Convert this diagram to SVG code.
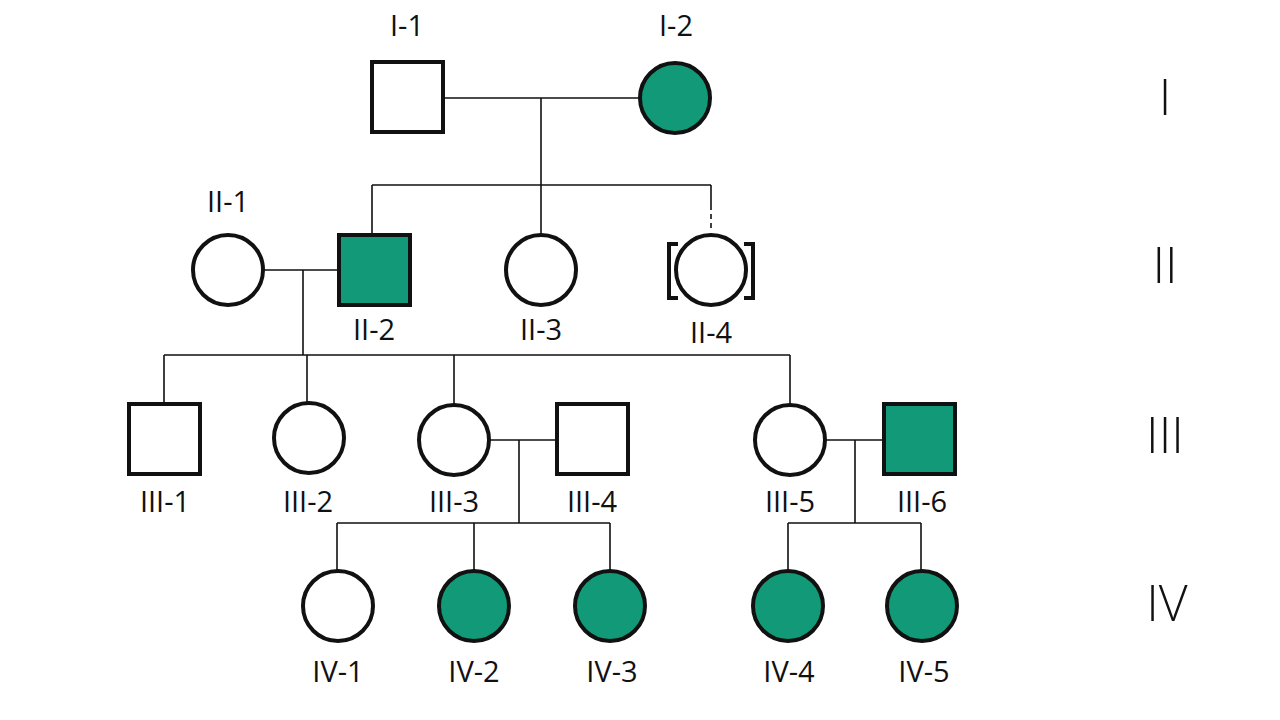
<svg xmlns="http://www.w3.org/2000/svg" width="1280" height="720" viewBox="0 0 1280 720">
<style>
.n{fill:#fff;stroke:#111;stroke-width:4}
.a{fill:#129a78;stroke:#111;stroke-width:4}
.l{stroke:#111;stroke-width:1.6;fill:none}
text{font-family:"Open Sans","Liberation Sans",sans-serif;font-size:29px;fill:#111;text-anchor:middle}
.g{font-size:50px;font-weight:300}
</style>
<rect width="1280" height="720" fill="#fff"/>
<g id="connectors">
<path class="l" d="M443 98H639M541 98V185M372 185H711M372 185V235M541 185V234"/>
<path class="l" d="M711 185V205" />
<path class="l" d="M711 205V232" stroke-dasharray="5,4"/>
<path class="l" d="M263 270H338M303 270V355M164 355H790M164 355V403M307 355V403M454 355V405M790 355V405"/>
<path class="l" d="M490 440H557M519 440V523M337 523H610M337 523V571M474 523V571M610 523V571"/>
<path class="l" d="M826 440H884M855 440V523M788 523H921M788 523V571M921 523V571"/>
</g>
<g id="I-1"><rect class="n" x="372" y="62" width="71" height="70"/><text x="407" y="36">I-1</text></g>
<g id="I-2"><circle class="a" cx="675" cy="98" r="35"/><text x="676" y="36">I-2</text></g>
<g id="II-1"><circle class="n" cx="228" cy="270" r="35"/><text x="228" y="212">II-1</text></g>
<g id="II-2"><rect class="a" x="339" y="235" width="71" height="70"/><text x="374" y="340">II-2</text></g>
<g id="II-3"><circle class="n" cx="541" cy="270" r="35"/><text x="541" y="340">II-3</text></g>
<g id="II-4"><circle class="n" cx="711" cy="270" r="35"/><path d="M678 244H669V298H678M744 244H753V298H744" fill="none" stroke="#111" stroke-width="4"/><text x="711" y="343">II-4</text></g>
<g id="III-1"><rect class="n" x="129" y="404" width="71" height="70"/><text x="165" y="512">III-1</text></g>
<g id="III-2"><circle class="n" cx="309" cy="438" r="35"/><text x="308" y="512">III-2</text></g>
<g id="III-3"><circle class="n" cx="454" cy="440" r="35"/><text x="454" y="512">III-3</text></g>
<g id="III-4"><rect class="n" x="557" y="404" width="71" height="70"/><text x="592" y="512">III-4</text></g>
<g id="III-5"><circle class="n" cx="790" cy="440" r="35"/><text x="790" y="512">III-5</text></g>
<g id="III-6"><rect class="a" x="884" y="404" width="71" height="70"/><text x="922" y="512">III-6</text></g>
<g id="IV-1"><circle class="n" cx="338" cy="606" r="35"/><text x="338" y="682">IV-1</text></g>
<g id="IV-2"><circle class="a" cx="474" cy="606" r="35"/><text x="474" y="682">IV-2</text></g>
<g id="IV-3"><circle class="a" cx="610" cy="606" r="35"/><text x="612" y="682">IV-3</text></g>
<g id="IV-4"><circle class="a" cx="788" cy="606" r="35"/><text x="789" y="682">IV-4</text></g>
<g id="IV-5"><circle class="a" cx="922" cy="606" r="35"/><text x="924" y="682">IV-5</text></g>
<g id="generations">
<text class="g" x="1165" y="115">I</text>
<text class="g" x="1165" y="283">II</text>
<text class="g" x="1165" y="453">III</text>
<text class="g" x="1167" y="621">IV</text>
</g>
</svg>
